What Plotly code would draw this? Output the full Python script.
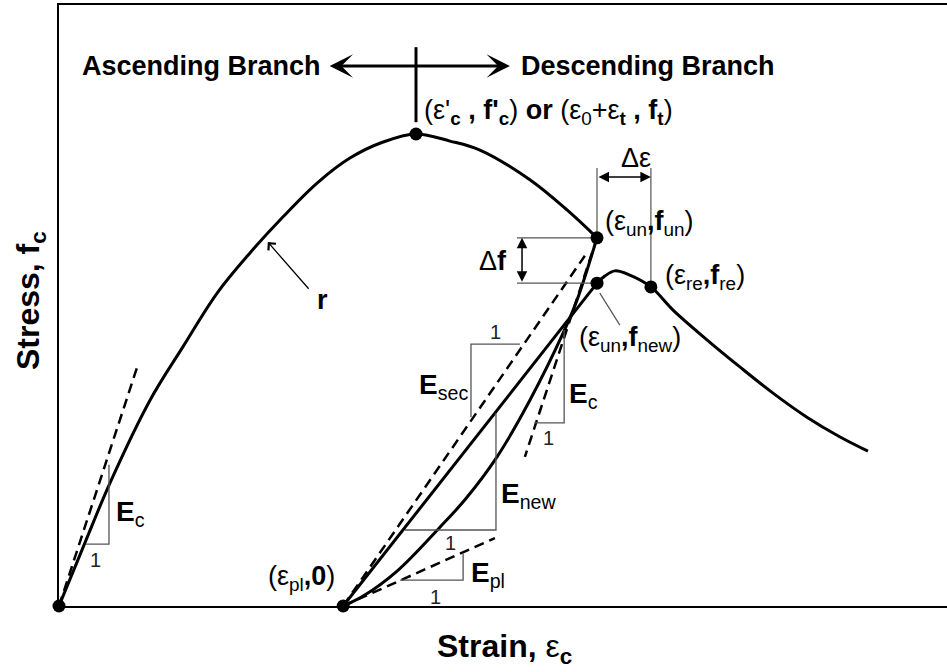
import plotly.graph_objects as go

# Normalised coordinates: strain / eps'_c (x) and stress / f'_c (y)

# Envelope: ascending branch up to the peak, then descending to unloading point
asc_strain = [0.0, 0.076, 0.143, 0.255, 0.347, 0.443, 0.535, 0.627, 0.723, 0.815, 0.908, 1.0]
asc_stress = [0.0, 0.140, 0.261, 0.436, 0.549, 0.663, 0.748, 0.824, 0.896, 0.949, 0.983, 1.0]
desc_strain = [1.0, 1.095, 1.179, 1.319, 1.423, 1.507]
desc_stress = [1.0, 0.985, 0.966, 0.903, 0.839, 0.780]

# Unloading curve from (eps_un, f_un) down to (eps_pl, 0)
unl_strain = [1.507, 1.451, 1.412, 1.319, 1.227, 1.137, 1.067, 0.947, 0.852, 0.796]
unl_stress = [0.780, 0.648, 0.578, 0.436, 0.316, 0.225, 0.167, 0.074, 0.021, 0.0]

# Reloading: straight E_new line, then rejoining the envelope past (eps_re, f_re)
rel_line_strain = [0.796, 1.507]
rel_line_stress = [0.0, 0.684]
rel_curve_strain = [1.507, 1.529, 1.557, 1.599, 1.658, 1.720, 1.815, 1.908, 2.0, 2.095, 2.188, 2.266]
rel_curve_stress = [0.684, 0.699, 0.710, 0.701, 0.676, 0.627, 0.564, 0.506, 0.451, 0.400, 0.358, 0.328]

# Key points: origin, peak, unloading, new, reloading, plastic strain
pt_strain = [0.0, 1.0, 1.507, 1.507, 1.658, 0.796]
pt_stress = [0.0, 1.0, 0.780, 0.684, 0.676, 0.0]

# Dashed reference slopes
tan0_strain, tan0_stress = [0.0, 0.221], [0.0, 0.511]          # E_c at origin
tanu_strain, tanu_stress = [1.507, 1.305], [0.780, 0.316]      # E_c at unloading
sec_strain, sec_stress = [0.796, 1.473], [0.0, 0.742]          # E_sec
pl_strain, pl_stress = [0.796, 1.221], [0.0, 0.144]            # E_pl

# Slope triangles (thin)
tri = {
    "Ec0": ([0.076, 0.140, 0.140], [0.131, 0.131, 0.299]),
    "Esec": ([1.154, 1.154, 1.291], [0.400, 0.555, 0.555]),
    "EcU": ([1.331, 1.415, 1.415], [0.388, 0.388, 0.585]),
    "Enew": ([0.969, 1.224, 1.224], [0.161, 0.161, 0.409]),
    "Epl": ([0.955, 1.132, 1.132], [0.055, 0.055, 0.112]),
}

X_MAX = 2.4874
Y_MAX = 1.2733
BLACK = "#000000"
GRAY = "#555555"
FONT = "Liberation Sans"

fig = go.Figure()

def line(xs, ys, width=3, color=BLACK, dash=None, shape="linear"):
    fig.add_trace(go.Scatter(
        x=xs, y=ys, mode="lines", hoverinfo="skip", showlegend=False,
        line=dict(color=color, width=width, dash=dash, shape=shape),
    ))

line(asc_strain + desc_strain[1:], asc_stress + desc_stress[1:], shape="spline")
line(unl_strain, unl_stress, shape="spline")
line(rel_line_strain, rel_line_stress)
line(rel_curve_strain, rel_curve_stress, shape="spline")

dash = "10px,6px"
for xs, ys in [(tan0_strain, tan0_stress), (tanu_strain, tanu_stress),
               (sec_strain, sec_stress), (pl_strain, pl_stress)]:
    line(xs, ys, width=2.5, dash=dash)

for xs, ys in tri.values():
    line(xs, ys, width=1.3, color=GRAY)

# Dimension lines for delta-f and delta-epsilon, plus leader and peak marker
line([1.283, 1.507], [0.780, 0.780], width=1.2, color=GRAY)
line([1.283, 1.507], [0.684, 0.684], width=1.2, color=GRAY)
line([1.507, 1.507], [0.928, 0.792], width=1.2, color=GRAY)
line([1.658, 1.658], [0.928, 0.686], width=1.2, color=GRAY)
line([1.515, 1.571], [0.663, 0.595], width=1.2, color=GRAY)
line([1.0, 1.0], [1.184, 1.025], width=3)

fig.add_trace(go.Scatter(
    x=pt_strain, y=pt_stress, mode="markers", hoverinfo="skip", showlegend=False,
    marker=dict(color=BLACK, size=13), cliponaxis=False,
))

ann = []

def arrow(x, y, ax, ay, both=True, head=2, width=1.5, size=1.2):
    ann.append(dict(
        x=x, y=y, ax=ax, ay=ay, xref="x", yref="y", axref="x", ayref="y",
        text="", showarrow=True, arrowhead=head, startarrowhead=head,
        arrowside="end+start" if both else "end", arrowwidth=width,
        arrowsize=size, startarrowsize=size, arrowcolor=BLACK,
        standoff=0, startstandoff=0,
    ))

arrow(1.263, 1.144, 0.754, 1.144, head=3, width=3, size=1.3)
arrow(1.658, 0.909, 1.507, 0.909, head=2, width=1.5, size=1.4)
arrow(1.297, 0.780, 1.297, 0.684, head=2, width=1.5, size=1.4)
arrow(0.585, 0.771, 0.703, 0.669, both=False, head=4, width=1.3, size=1.5)

def label(x, y, text, size=27, xanchor="center", color=BLACK):
    ann.append(dict(
        x=x, y=y, xref="x", yref="y", text=text, showarrow=False,
        xanchor=xanchor, yanchor="middle",
        font=dict(family=FONT, size=size, color=color),
    ))

label(0.398, 1.144, "<b>Ascending Branch</b>")
label(1.650, 1.144, "<b>Descending Branch</b>")
label(1.017, 1.047, "(ε'<sub><b>c</b></sub> <b>, f'</b><sub><b>c</b></sub>) <b>or</b> "
      "(ε<sub>0</sub>+ε<sub><b>t</b></sub> <b>, f</b><sub><b>t</b></sub>)", xanchor="left")
label(1.524, 0.811, "(ε<sub>un</sub><b>,f</b><sub>un</sub>)", xanchor="left")
label(1.692, 0.697, "(ε<sub>re</sub><b>,f</b><sub>re</sub>)", xanchor="left")
label(1.451, 0.566, "(ε<sub>un</sub><b>,f</b><sub>new</sub>)", xanchor="left")
label(0.779, 0.059, "(ε<sub>pl</sub><b>,0</b>)", xanchor="right")
label(0.737, 0.648, "<b>r</b>")
label(1.616, 0.949, "Δε")
label(1.216, 0.731, "Δ<b>f</b>")

label(0.199, 0.195, "<b>E</b><sub>c</sub>", size=28)
label(1.076, 0.466, "<b>E</b><sub>sec</sub>", size=28)
label(1.468, 0.445, "<b>E</b><sub>c</sub>", size=28)
label(1.314, 0.235, "<b>E</b><sub>new</sub>", size=28)
label(1.202, 0.066, "<b>E</b><sub>pl</sub>", size=28)

for x1, y1 in [(0.101, 0.097), (1.224, 0.581), (1.370, 0.356), (1.098, 0.133), (1.056, 0.019)]:
    label(x1, y1, "1", size=20, color="#222222")

# Axis titles
ann.append(dict(x=0.502, y=-0.070, xref="paper", yref="paper", showarrow=False,
                xanchor="center", yanchor="middle",
                text="<b>Strain,</b> ε<sub><b>c</b></sub>",
                font=dict(family=FONT, size=32, color=BLACK)))
ann.append(dict(x=-0.0327, y=0.509, xref="paper", yref="paper", showarrow=False,
                xanchor="center", yanchor="middle",
                text="<b>Stress, f</b><sub><b>c</b></sub>", textangle=-90,
                font=dict(family=FONT, size=32, color=BLACK)))

fig.update_layout(
    width=947, height=672,
    margin=dict(l=59, r=0, t=5, b=66),
    paper_bgcolor="white", plot_bgcolor="white",
    annotations=ann,
    xaxis=dict(range=[0, X_MAX], showgrid=False, zeroline=False, showticklabels=False,
               ticks="", showline=True, linecolor=BLACK, linewidth=1.5, mirror=True),
    yaxis=dict(range=[0, Y_MAX], showgrid=False, zeroline=False, showticklabels=False,
               ticks="", showline=True, linecolor=BLACK, linewidth=1.5, mirror=False),
)

fig.write_html("out.html")
